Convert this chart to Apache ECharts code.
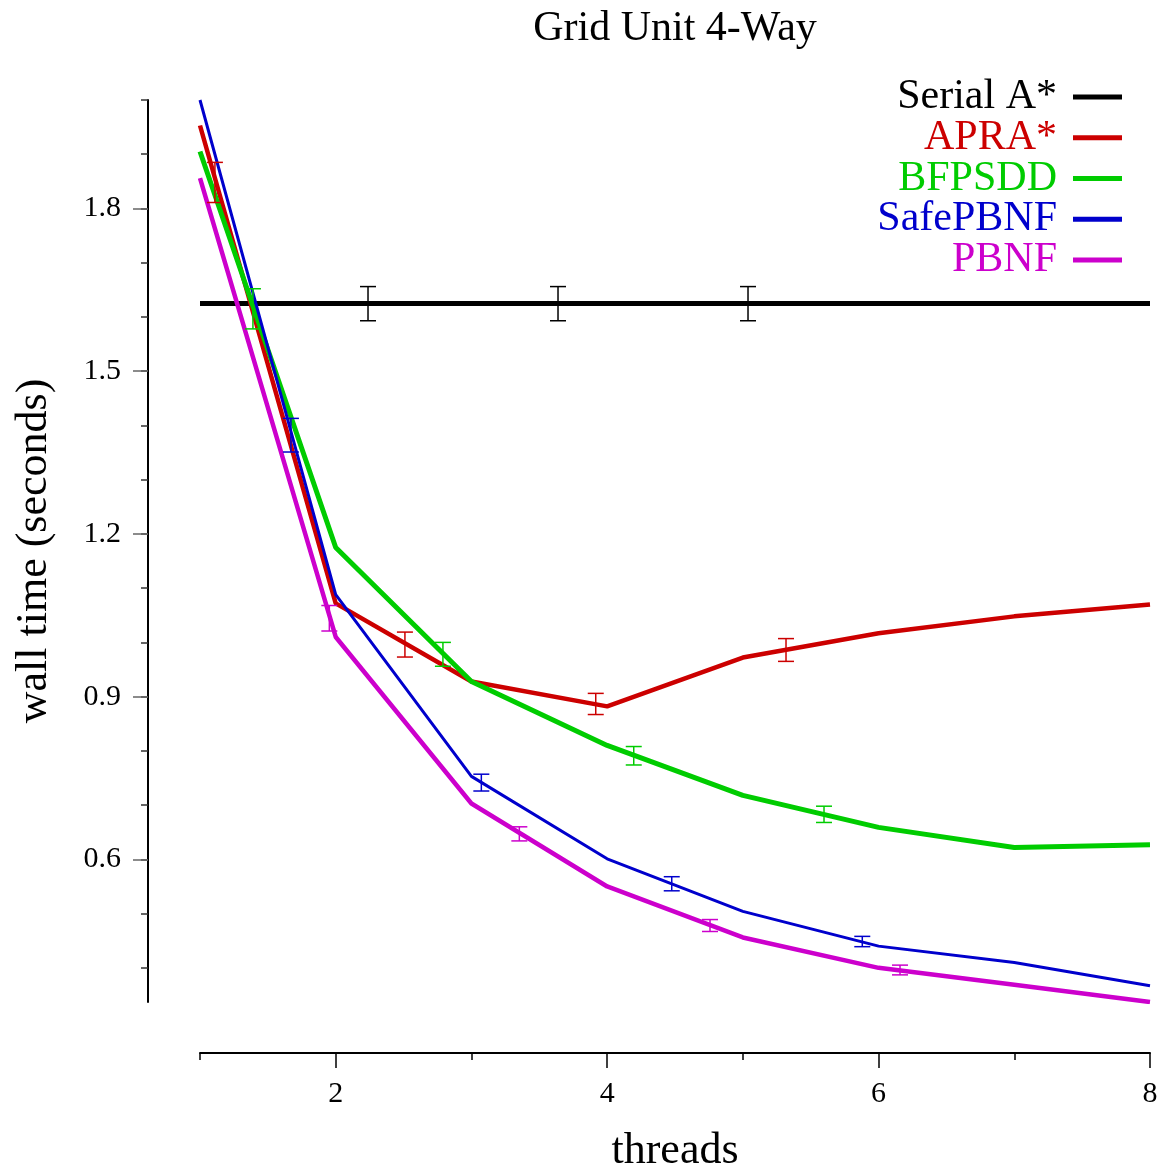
<!DOCTYPE html>
<html>
<head>
<meta charset="utf-8">
<script src="https://cdn.jsdelivr.net/npm/echarts@6/dist/echarts.min.js"></script>
<style>
  html, body { margin: 0; padding: 0; background: #fff; }
  #chart { width: 1163px; height: 1173px; }
</style>
</head>
<body>
<div id="chart"></div>
<script>
const threads = [1, 2, 3, 4, 5, 6, 7, 8];

const serialA = [1.625, 1.625, 1.625, 1.625, 1.625, 1.625, 1.625, 1.625];
const apra = [1.953, 1.072, 0.928, 0.882, 0.972, 1.017, 1.048, 1.070];
const bfpsdd = [1.905, 1.175, 0.928, 0.810, 0.718, 0.659, 0.622, 0.627];
const safePbnf = [2.000, 1.088, 0.753, 0.601, 0.504, 0.440, 0.410, 0.367];
const pbnf = [1.856, 1.010, 0.703, 0.550, 0.456, 0.400, 0.369, 0.337];

// error bars: x position, low, high
const serialErrX = [2.238, 3.638, 5.038];
const serialErrLo = [1.593, 1.593, 1.593];
const serialErrHi = [1.656, 1.656, 1.656];
const apraErrX = [1.11, 2.51, 3.916, 5.318];
const apraErrLo = [1.811, 0.973, 0.867, 0.965];
const apraErrHi = [1.885, 1.019, 0.906, 1.007];
const bfpsddErrX = [1.39, 2.79, 4.196, 5.598];
const bfpsddErrLo = [1.578, 0.956, 0.774, 0.668];
const bfpsddErrHi = [1.652, 1.000, 0.808, 0.698];
const safeErrX = [1.67, 3.073, 4.476, 5.88];
const safeErrLo = [1.351, 0.726, 0.542, 0.439];
const safeErrHi = [1.413, 0.757, 0.568, 0.458];
const pbnfErrX = [1.953, 3.353, 4.758, 6.158];
const pbnfErrLo = [1.021, 0.634, 0.467, 0.387];
const pbnfErrHi = [1.068, 0.660, 0.489, 0.405];

const yMinorTicks = [0.4, 0.5, 0.6, 0.7, 0.8, 0.9, 1.0, 1.1, 1.2, 1.3, 1.4, 1.5, 1.6, 1.7, 1.8, 1.9, 2.0];
const yLabels = [0.6, 0.9, 1.2, 1.5, 1.8];
const xMinorTicks = [1, 2, 3, 4, 5, 6, 7, 8];
const xLabels = [2, 4, 6, 8];

const names = ['Serial A*', 'APRA*', 'BFPSDD', 'SafePBNF', 'PBNF'];
const colors = ['#000000', '#cc0000', '#00cc00', '#0000cc', '#cc00cc'];
const widths = [5, 4.5, 5, 3, 4.5];

const FONT = 'Liberation Serif';

function zip(xs, ys) {
    return xs.map((x, i) => [x, ys[i]]);
}

function errData(xs, lo, hi) {
    return xs.map((x, i) => [x, lo[i], hi[i]]);
}

function errorBars(data, color) {
    return {
        type: 'custom',
        data: data,
        encode: { x: 0, y: [1, 2] },
        z: 5,
        renderItem: function (params, api) {
            const lo = api.coord([api.value(0), api.value(1)]);
            const hi = api.coord([api.value(0), api.value(2)]);
            const w = 8;
            const style = { stroke: color, lineWidth: 1.5 };
            return {
                type: 'group',
                children: [
                    { type: 'line', shape: { x1: lo[0], y1: lo[1], x2: hi[0], y2: hi[1] }, style: style },
                    { type: 'line', shape: { x1: lo[0] - w, y1: lo[1], x2: lo[0] + w, y2: lo[1] }, style: style },
                    { type: 'line', shape: { x1: hi[0] - w, y1: hi[1], x2: hi[0] + w, y2: hi[1] }, style: style }
                ]
            };
        }
    };
}

const lineValues = [serialA, apra, bfpsdd, safePbnf, pbnf];
const errSets = [
    errData(serialErrX, serialErrLo, serialErrHi),
    errData(apraErrX, apraErrLo, apraErrHi),
    errData(bfpsddErrX, bfpsddErrLo, bfpsddErrHi),
    errData(safeErrX, safeErrLo, safeErrHi),
    errData(pbnfErrX, pbnfErrLo, pbnfErrHi)
];

const series = [];
names.forEach(function (name, i) {
    series.push({
        name: name,
        type: 'line',
        data: zip(threads, lineValues[i]),
        symbol: 'none',
        color: colors[i],
        lineStyle: { width: widths[i], color: colors[i] },
        z: 3
    });
});
names.forEach(function (name, i) {
    series.push(errorBars(errSets[i], colors[i]));
});

const chart = echarts.init(document.getElementById('chart'));

const axisFont = { fontFamily: FONT, fontSize: 30, color: '#000' };

chart.setOption({
    animation: false,
    backgroundColor: '#fff',
    title: {
        text: 'Grid Unit 4-Way',
        left: 670,
        textAlign: 'center',
        top: 3,
        textStyle: { fontFamily: FONT, fontSize: 42, fontWeight: 'normal', color: '#000' }
    },
    legend: {
        orient: 'vertical',
        right: 36,
        top: 71,
        align: 'right',
        icon: 'rect',
        itemWidth: 49,
        itemHeight: 5,
        itemGap: -1.25,
        textStyle: { fontFamily: FONT, fontSize: 42, lineHeight: 40.5, padding: [0, 11, 0, 0] },
        data: names.map(function (n, i) {
            return { name: n, textStyle: { color: colors[i] } };
        })
    },
    grid: { left: 200, right: 13, top: 100, bottom: 171, outerBoundsMode: 'none', containLabel: false },
    xAxis: [{
        type: 'value',
        min: 1,
        max: 8,
        offset: 51,
        name: 'threads',
        nameLocation: 'middle',
        nameGap: 76,
        nameTextStyle: { fontFamily: FONT, fontSize: 44, color: '#000' },
        axisLine: { show: true, lineStyle: { color: '#000', width: 2 } },
        axisTick: { show: true, length: 7, lineStyle: { color: '#000', width: 1.5 }, customValues: xMinorTicks },
        axisLabel: { show: false },
        splitLine: { show: false }
    }, {
        type: 'value',
        min: 1,
        max: 8,
        offset: 51,
        position: 'bottom',
        axisLine: { show: false },
        axisTick: { show: true, length: 15, lineStyle: { color: '#000', width: 1.5 }, customValues: xLabels },
        axisLabel: Object.assign({ margin: 26, customValues: xLabels }, axisFont),
        splitLine: { show: false }
    }],
    yAxis: [{
        type: 'value',
        min: 0.337,
        max: 2.0,
        offset: 52,
        name: 'wall time (seconds)',
        nameLocation: 'middle',
        nameGap: 92,
        nameTextStyle: { fontFamily: FONT, fontSize: 44, color: '#000' },
        axisLine: { show: true, lineStyle: { color: '#000', width: 2 } },
        axisTick: { show: true, length: 7, lineStyle: { color: '#333', width: 1.5 }, customValues: yMinorTicks },
        axisLabel: { show: false },
        splitLine: { show: false }
    }, {
        type: 'value',
        min: 0.337,
        max: 2.0,
        offset: 52,
        position: 'left',
        axisLine: { show: false },
        axisTick: { show: true, length: 15, lineStyle: { color: '#666', width: 1.5 }, customValues: yLabels },
        axisLabel: Object.assign({ margin: 27, customValues: yLabels, formatter: function (v) { return v.toFixed(1); } }, axisFont),
        splitLine: { show: false }
    }],
    series: series
});
</script>
</body>
</html>
